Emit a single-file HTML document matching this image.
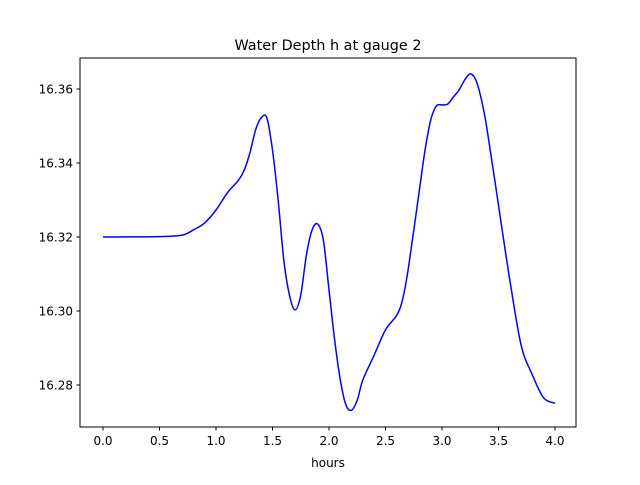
<!DOCTYPE html>
<html><head><meta charset="utf-8"><style>
body{margin:0;background:#fff;}
svg text{font-family:"DejaVu Sans","Liberation Sans",sans-serif;fill:#000;}
</style></head><body>
<svg id="chart" width="640" height="480">
<rect width="640" height="480" fill="#fff"/>
<text x="328" y="50" font-size="14.4" text-anchor="middle">Water Depth h at gauge 2</text>
<g id="plot"></g>
<rect x="80" y="58" width="496" height="369" fill="none" stroke="#000" stroke-width="1"/>
<text x="328" y="467" font-size="12" text-anchor="middle">hours</text>
</svg>
<script>
const hours=[0,0.5,0.7,0.8,0.9,1.0,1.1,1.2,1.25,1.3,1.35,1.4,1.45,1.5,1.55,1.6,1.65,1.7,1.75,1.8,1.85,1.9,1.95,2.0,2.05,2.1,2.15,2.2,2.25,2.3,2.4,2.5,2.6,2.65,2.7,2.8,2.85,2.9,2.95,3.0,3.05,3.1,3.15,3.2,3.25,3.3,3.35,3.4,3.5,3.6,3.7,3.8,3.9,4.0];
const depth=[16.3200,16.3201,16.3205,16.3219,16.3238,16.3273,16.3319,16.3354,16.3381,16.3427,16.3489,16.3522,16.3522,16.3435,16.3300,16.3138,16.3043,16.3003,16.3043,16.3151,16.3219,16.3235,16.3192,16.3057,16.2922,16.2814,16.2746,16.2732,16.2759,16.2814,16.2881,16.2949,16.2989,16.3030,16.3111,16.3327,16.3435,16.3516,16.3554,16.3557,16.3559,16.3578,16.3597,16.3624,16.3641,16.3624,16.3570,16.3489,16.3286,16.3084,16.2908,16.2827,16.2765,16.2751];
const xTicks=[0,0.5,1,1.5,2,2.5,3,3.5,4];
const xTickLabels=["0.0","0.5","1.0","1.5","2.0","2.5","3.0","3.5","4.0"];
const yTicks=[16.28,16.30,16.32,16.34,16.36];
const yTickLabels=["16.28","16.30","16.32","16.34","16.36"];
const NS="http://www.w3.org/2000/svg";
const X=v=>103+v*113;
const Y=v=>237-(v-16.32)*3700;
const g=document.getElementById('plot');
function el(t,a){const e=document.createElementNS(NS,t);for(const k in a)e.setAttribute(k,a[k]);g.appendChild(e);return e;}
xTicks.forEach((t,i)=>{
 const l=el('line',{x1:X(t),x2:X(t),y1:427,y2:430.5,stroke:'#000'});
 
 
 const tx=el('text',{x:X(t),y:445,'font-size':12,'text-anchor':'middle'});tx.textContent=xTickLabels[i];
 
 
});
yTicks.forEach((t,i)=>{
 const l=el('line',{x1:76.5,x2:80,y1:Y(t),y2:Y(t),stroke:'#000'});
 
 
 const tx=el('text',{x:73,y:Y(t)+4.5,'font-size':12,'text-anchor':'end'});tx.textContent=yTickLabels[i];
 
 
});
const P=hours.map((h,i)=>[X(h),Y(depth[i])]);
let d='M'+P[0][0]+','+P[0][1];
for(let i=0;i<P.length-1;i++){
 const p0=P[Math.max(0,i-1)],p1=P[i],p2=P[i+1],p3=P[Math.min(P.length-1,i+2)];
 const c1=[p1[0]+(p2[0]-p0[0])/6,p1[1]+(p2[1]-p0[1])/6];
 const c2=[p2[0]-(p3[0]-p1[0])/6,p2[1]-(p3[1]-p1[1])/6];
 d+=` C${c1[0]},${c1[1]} ${c2[0]},${c2[1]} ${p2[0]},${p2[1]}`;
}
const line=el('path',{d:d,fill:'none',stroke:'#0000ff','stroke-width':1.5});


</script>
</body></html>
